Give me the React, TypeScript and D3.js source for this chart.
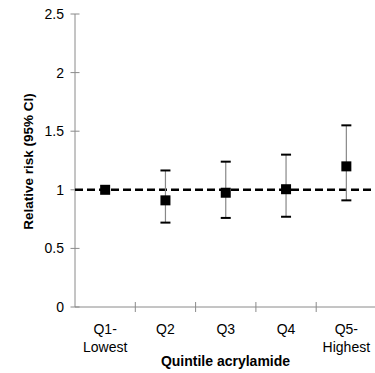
import React from "react";
import * as d3 from "d3";

const categories = ["Q1-|Lowest", "Q2", "Q3", "Q4", "Q5-|Highest"];
const estimates = [1.0, 0.91, 0.975, 1.005, 1.2];
const lowerCI = [null, 0.72, 0.76, 0.77, 0.91];
const upperCI = [null, 1.165, 1.24, 1.3, 1.55];
const yTicks = [0, 0.5, 1, 1.5, 2, 2.5];
const referenceValue = 1;

export default function App() {
  const W = 375, H = 373;
  const x0 = 75, x1 = 376.5, y0 = 307, y1 = 14;
  const x = d3.scaleBand<string>().domain(categories).range([x0, x1]);
  const y = d3.scaleLinear().domain([0, 2.5]).range([y0, y1]);
  const font = "'Liberation Sans', Arial, sans-serif";
  const axisColor = "#8a8a8a";
  const sq = 10;
  const cap = 5;
  return (
    <svg width={W} height={H} style={{ position: "absolute", left: 0, top: 0, background: "#fff" }} fontFamily={font}>
      {/* y axis */}
      <line x1={x0} x2={x0} y1={y1} y2={y0} stroke={axisColor} strokeWidth={1} />
      {yTicks.map((t) => (
        <g key={t}>
          <line x1={x0 - 4.5} x2={x0 + 4.5} y1={y(t)} y2={y(t)} stroke={axisColor} strokeWidth={1} />
          <text x={64} y={y(t)} dy="0.36em" textAnchor="end" fontSize={14} fill="#000">{t}</text>
        </g>
      ))}
      {/* x axis */}
      <line x1={x0} x2={W} y1={y0} y2={y0} stroke={axisColor} strokeWidth={1} />
      {categories.slice(1).map((c) => (
        <line key={c} x1={x(c)!} x2={x(c)!} y1={y0 - 5} y2={y0 + 5} stroke={axisColor} strokeWidth={1} />
      ))}
      {categories.map((c) => {
        const parts = c.split("|");
        const cx = x(c)! + x.bandwidth() / 2;
        return (
          <text key={c} x={cx} y={334} textAnchor="middle" fontSize={14} fill="#000">
            {parts.map((p, i) => (
              <tspan key={i} x={cx} dy={i === 0 ? 0 : 18}>{p}</tspan>
            ))}
          </text>
        );
      })}
      <text x={225.5} y={366} textAnchor="middle" fontSize={14} fontWeight="bold" fill="#000">Quintile acrylamide</text>
      <text transform={`translate(33,161.5) rotate(-90)`} textAnchor="middle" fontSize={13.5} fontWeight="bold" fill="#000">Relative risk (95% CI)</text>
      {/* reference line */}
      <line x1={x0} x2={W} y1={y(referenceValue)} y2={y(referenceValue)} stroke="#000" strokeWidth={2.5} strokeDasharray="8,4" />
      {/* error bars */}
      {categories.map((c, i) => {
        const lo = lowerCI[i], hi = upperCI[i];
        if (lo == null || hi == null) return null;
        const cx = x(c)! + x.bandwidth() / 2;
        return (
          <g key={c}>
            <line x1={cx} x2={cx} y1={y(hi)} y2={y(lo)} stroke="#888" strokeWidth={1.2} />
            <line x1={cx - cap} x2={cx + cap} y1={y(hi)} y2={y(hi)} stroke="#000" strokeWidth={2} />
            <line x1={cx - cap} x2={cx + cap} y1={y(lo)} y2={y(lo)} stroke="#000" strokeWidth={2} />
          </g>
        );
      })}
      {categories.map((c, i) => {
        const cx = x(c)! + x.bandwidth() / 2;
        return <rect key={c} x={cx - sq / 2} y={y(estimates[i]) - sq / 2} width={sq} height={sq} fill="#000" />;
      })}
    </svg>
  );
}
